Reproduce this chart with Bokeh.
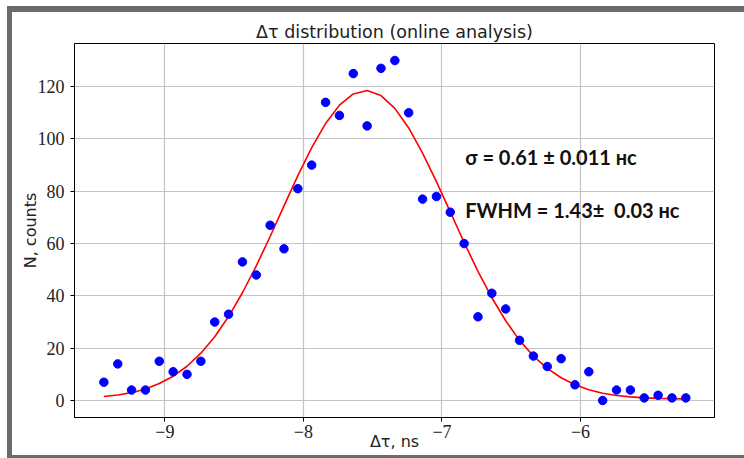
from bokeh.plotting import figure
from bokeh.layouts import column
from bokeh.models import Range1d, Label, FixedTicker
from bokeh.embed import file_html
from bokeh.resources import INLINE

# Histogram of the time difference (bin centres, ns) and counts per bin
dt_ns = [-9.44, -9.34, -9.24, -9.14, -9.04, -8.94, -8.84, -8.74, -8.64, -8.54,
         -8.44, -8.34, -8.24, -8.14, -8.04, -7.94, -7.84, -7.74, -7.64, -7.54,
         -7.44, -7.34, -7.24, -7.14, -7.04, -6.94, -6.84, -6.74, -6.64, -6.54,
         -6.44, -6.34, -6.24, -6.14, -6.04, -5.94, -5.84, -5.74, -5.64, -5.54,
         -5.44, -5.34, -5.24]
counts = [7, 14, 4, 4, 15, 11, 10, 15, 30, 33,
          53, 48, 67, 58, 81, 90, 114, 109, 125, 105,
          127, 130, 110, 77, 78, 72, 60, 32, 41, 35,
          23, 17, 13, 16, 6, 11, 0, 4, 4, 1,
          2, 1, 1]
# Gaussian fit evaluated at the bin centres
fit_counts = [1.5, 2.1, 3.0, 4.4, 6.5, 9.3, 13.1, 18.1, 24.4, 32.1,
              41.2, 51.5, 62.7, 74.4, 86.0, 96.7, 105.9, 112.9, 117.2, 118.5,
              116.6, 111.7, 104.2, 94.6, 83.7, 72.1, 60.4, 49.4, 39.3, 30.5,
              23.0, 17.0, 12.3, 8.7, 6.0, 4.1, 2.8, 1.9, 1.4, 1.0,
              0.8, 0.7, 0.6]

x_ticks = [-9, -8, -7, -6]
y_ticks = [0, 20, 40, 60, 80, 100, 120]
x_tick_labels = {-9: "\u22129", -8: "\u22128", -7: "\u22127", -6: "\u22126"}

title_text = "\u0394\u03c4 distribution (online analysis)"
x_label = "\u0394\u03c4, ns"
y_label = "N, counts"
sigma_text = "\u03c3 = 0.61 \u00b1 0.011 \u043d\u0441"
fwhm_text = "FWHM = 1.43\u00b1\u00a0 0.03 \u043d\u0441"

p = figure(width=740, height=443, output_backend="svg", toolbar_location=None,
           x_range=Range1d(-9.652, -5.033), y_range=Range1d(-6.5, 136.5),
           min_border_left=62, min_border_right=38,
           min_border_top=31, min_border_bottom=38,
           background_fill_color="white", border_fill_color="white")

p.title.text = title_text
p.title.align = "center"
p.title.text_font = "DejaVu Sans"
p.title.text_font_style = "normal"
p.title.text_font_size = "17.5px"
p.title.text_color = "#222222"
p.title.standoff = 3

p.outline_line_color = "black"
p.outline_line_width = 1

for ax in (p.xaxis, p.yaxis):
    ax.axis_line_color = "black"
    ax.major_tick_line_color = "black"
    ax.major_tick_out = 4
    ax.major_tick_in = 0
    ax.minor_tick_line_color = None
    ax.major_label_text_font = "Liberation Serif"
    ax.major_label_text_font_size = "18px"
    ax.major_label_text_color = "#222222"
    ax.axis_label_text_font = "DejaVu Sans"
    ax.axis_label_text_font_style = "normal"
    ax.axis_label_text_font_size = "16px"
    ax.axis_label_text_color = "#222222"

p.xaxis.ticker = FixedTicker(ticks=x_ticks)
p.xaxis.major_label_overrides = x_tick_labels
p.xaxis.major_label_standoff = 3
p.xaxis.axis_label = x_label
p.xaxis.axis_label_standoff = -9
p.yaxis.ticker = FixedTicker(ticks=y_ticks)
p.yaxis.major_label_standoff = 6
p.yaxis.axis_label = y_label
p.yaxis.axis_label_standoff = -5

p.grid.grid_line_color = "#c4c4c4"
p.grid.grid_line_width = 1.2

p.line(dt_ns, fit_counts, line_color="#ff0000", line_width=1.6)
p.scatter(dt_ns, counts, size=8.5, fill_color="#0000ff", line_color="#0000ff")

# Fit results written inside the plot area
p.add_layout(Label(x=-6.832, y=93.0, text=sigma_text,
                   text_font="Lato", text_font_style="bold", text_font_size="20px",
                   text_baseline="alphabetic", text_color="#111111"))
p.add_layout(Label(x=-6.832, y=73.0, text=fwhm_text,
                   text_font="Lato", text_font_style="bold", text_font_size="20px",
                   text_baseline="alphabetic", text_color="#111111"))

# Grey window frame around the figure
framed = column(p, styles={
    "margin-left": "7px",
    "margin-top": "6px",
    "border-left": "5px solid #6b6b6b",
    "border-top": "6px solid #6b6b6b",
    "border-bottom": "3px solid #6b6b6b",
    "background-color": "white",
    "overflow": "hidden",
})

open("out.html", "w").write(file_html(framed, INLINE))
